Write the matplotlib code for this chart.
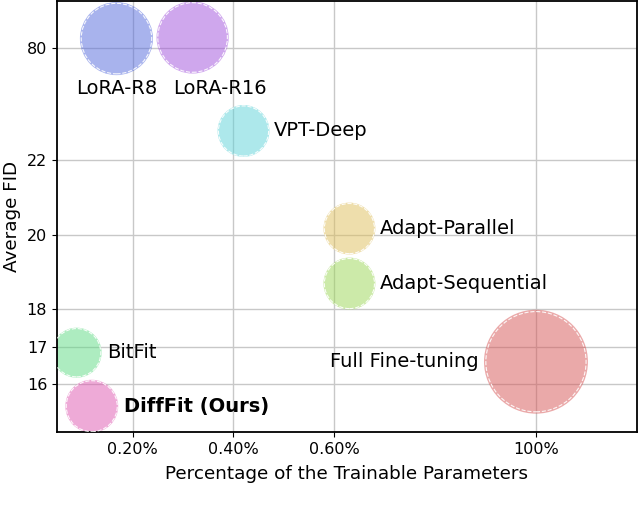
import matplotlib
matplotlib.use('Agg')
import matplotlib.pyplot as plt

# Methods and their (plotted) positions
methods = ['LoRA-R8', 'LoRA-R16', 'VPT-Deep', 'Adapt-Parallel', 'Adapt-Sequential',
           'BitFit', 'DiffFit (Ours)', 'Full Fine-tuning']
params = [0.168, 0.319, 0.42, 0.63, 0.63, 0.089, 0.119, 1.0]   # axis position of trainable %
fid = [25.24, 25.27, 22.77, 20.16, 18.69, 16.84, 15.41, 16.6]  # axis position of FID
sizes = [2770, 2700, 1400, 1400, 1400, 1300, 1450, 5600]
colors = ['#5369dd', '#a151dd', '#5dd3d9', '#dfbf5b', '#9bd755', '#5ddb83', '#df57b1', '#d75555']

xticks = [0.2, 0.4, 0.6, 1.0]
xticklabels = ['0.20%', '0.40%', '0.60%', '100%']
yticks = [16, 17, 18, 20, 22, 25]
yticklabels = ['16', '17', '18', '20', '22', '80']

# label offsets in points and alignment
offsets = [(0, -36), (20, -37), (22, 0), (22, 0), (22, 0), (22, 0), (23, 0), (-41, 0)]
aligns = ['center', 'center', 'left', 'left', 'left', 'left', 'left', 'right']

fig = plt.figure(figsize=(6.4, 5.17), dpi=100)
ax = fig.add_axes([0.089, 0.1644, 0.906, 0.834])

ax.grid(True, color='#c8c8c8', linewidth=1.0, zorder=0)
ax.set_axisbelow(True)
ax.scatter(params, fid, s=sizes, c=colors, alpha=0.5, linewidths=0, zorder=2)
# thin white dashed ring just inside each bubble
ax.scatter(params, fid, s=[v * 0.93 for v in sizes], facecolors='none', edgecolors='white',
           linewidths=0.8, linestyle='--', alpha=0.9, zorder=3)

for i, name in enumerate(methods):
    ax.annotate(name, (params[i], fid[i]), xytext=offsets[i], textcoords='offset points',
                ha=aligns[i], va='center', fontsize=14,
                fontweight='bold' if 'Ours' in name else 'normal')

ax.set_xlim(0.05, 1.2)
ax.set_ylim(14.72, 26.25)
ax.set_xticks(xticks)
ax.set_xticklabels(xticklabels, fontsize=11.5)
ax.set_yticks(yticks)
ax.set_yticklabels(yticklabels, fontsize=11.5)
ax.set_xlabel('Percentage of the Trainable Parameters', fontsize=13.2, labelpad=6)
ax.set_ylabel('Average FID', fontsize=13.2)
for sp in ax.spines.values():
    sp.set_linewidth(1.3)

fig.savefig('out.png', dpi=100)
